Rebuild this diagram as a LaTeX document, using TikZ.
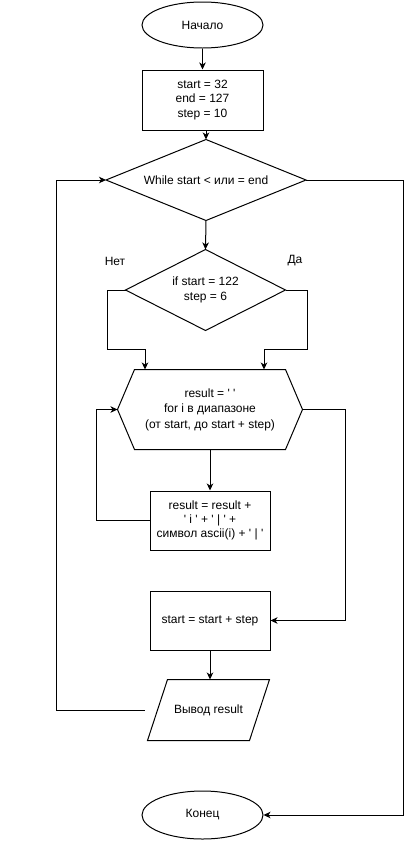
\documentclass[tikz,border=0pt]{standalone}
\usepackage{fontspec}
\setmainfont{Liberation Sans}[Ligatures=TeXOff]
\usetikzlibrary{shapes.geometric,arrows.meta}
\begin{document}
\begin{tikzpicture}[x=1pt,y=-1pt,
  every node/.style={font=\fontsize{12}{14.4}\selectfont, align=center, inner sep=0pt, line width=1pt},
  terminal/.style={ellipse, draw, minimum width=121pt, minimum height=46pt},
  process/.style={rectangle, draw, minimum height=59pt},
  arr/.style={line width=1pt, -{Stealth[length=7pt,width=6.5pt,inset=2pt]}},
  wire/.style={line width=1pt}]
\useasboundingbox (0,0) rectangle (416,841);

% blocks
\node[terminal] (begin) at (202.5,25) {Начало};
\node[process, minimum width=121pt, minimum height=60pt] (init) at (202.5,100)
  {start = 32\\end = 127\\step = 10};

% decisions: text nodes of the diamonds' size, outline drawn through their anchors
\node[minimum width=199pt, minimum height=80pt] (while) at (206,180)
  {While start < или = end};
\draw[wire] (while.north) -- (while.east) -- (while.south) -- (while.west) -- cycle;
\node[minimum width=159pt, minimum height=80pt] (cond) at (205.5,290)
  {if start = 122\\step = 6};
\draw[wire] (cond.north) -- (cond.east) -- (cond.south) -- (cond.west) -- cycle;
\node (yes) at (295,261) {Да};
\node (no) at (115,261) {Нет};

% loop header (hexagon)
\node[minimum width=184pt, minimum height=79pt, font=\fontsize{12}{15.5}\selectfont] (loop) at (210,409.5)
  {result = ' '\\for i в диапазоне\\(от start, до start + step)};
\draw[wire] (loop.west) -- ([xshift=17pt]loop.north west) -- ([xshift=-17pt]loop.north east)
  -- (loop.east) -- ([xshift=-17pt]loop.south east) -- ([xshift=17pt]loop.south west) -- cycle;

\node[process, minimum width=120pt] (body) at (210,520.5)
  {result = result +\\' i ' + ' | ' +\\символ ascii(i) + ' | '};
\node[process, minimum width=120pt] (next) at (210,620.5) {start = start + step};

% output (parallelogram)
\node[minimum width=101pt, minimum height=60pt] (out) at (208.5,710) {Вывод result};
\draw[wire] ([xshift=10pt]out.north west) -- ([xshift=10pt]out.north east)
  -- ([xshift=-10pt]out.south east) -- ([xshift=-10pt]out.south west) -- cycle;

\node[terminal, minimum height=48pt] (finish) at (202.5,815) {Конец};

% connectors
\draw[arr] (begin) -- (init);
\draw[arr] (while.north |- init.south) -- (while.north);
\draw[arr] (while.south) -- (cond.north);
\draw[arr] (while.east) -- ++(97,0) |- (finish.east);

\coordinate (noturn) at (107,349);
\coordinate (yesturn) at (307,349);
\draw[arr] (cond.west) -| (noturn) -| ([xshift=-65pt]loop.north);
\draw[arr] (cond.east) -| (yesturn) -| ([xshift=54pt]loop.north);

\draw[arr] (loop.south) -- (body.north);
\draw[arr] (body.west) -- ++(-53,0) |- (loop.west);
\draw[arr] (loop.east) -- ++(43,0) |- (next.east);

\draw[arr] (next.south) -- (next.south |- out.north);
\draw[arr] ([xshift=-13pt]out.west) -- ++(-88,0) |- (while.west);
\end{tikzpicture}
\end{document}
